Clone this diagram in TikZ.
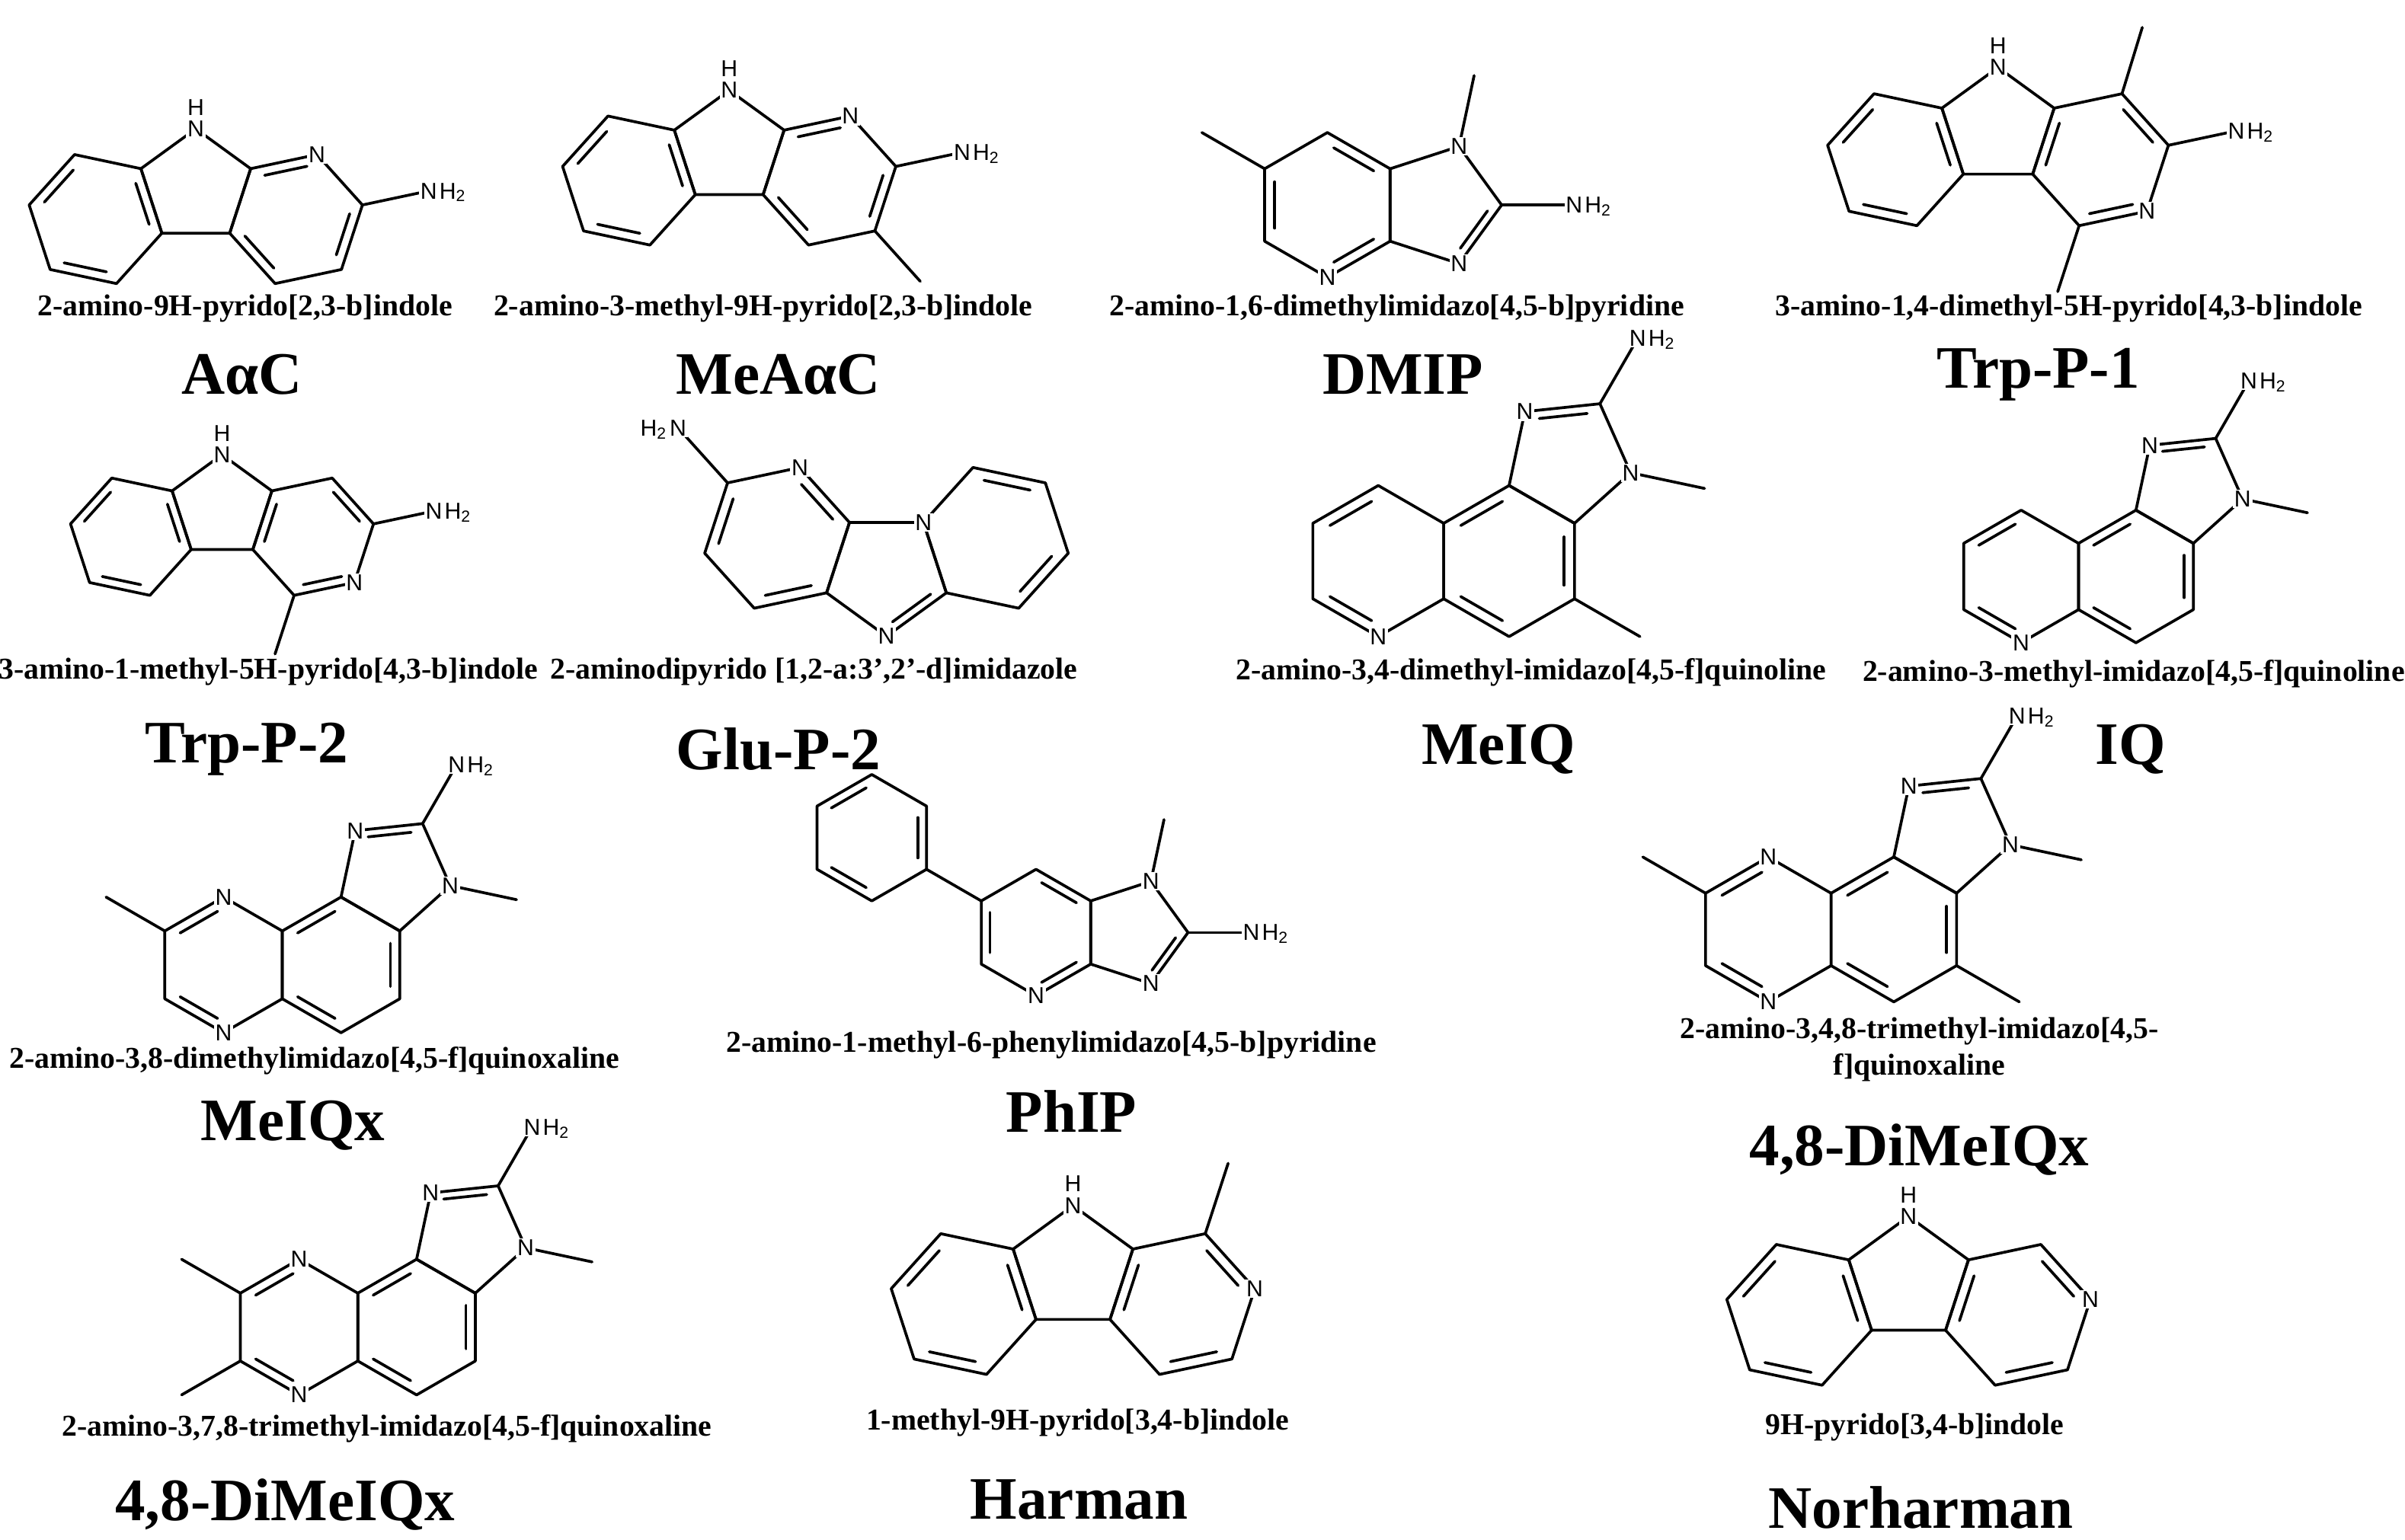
\documentclass[tikz,border=0pt]{standalone}
\usepackage{fontspec}
\setmainfont{Liberation Serif}
\setsansfont{Liberation Sans}
\usetikzlibrary{calc}
\tikzset{
  bond/.style={line width=1.05pt, line cap=round, line join=round},
  atom/.style={font=\sffamily\fontsize{8.6}{9}\selectfont, fill=white, inner sep=0.5pt},
  desc/.style={font=\bfseries\fontsize{11.3}{13.5}\selectfont, align=center, inner sep=0pt},
  title/.style={font=\bfseries\fontsize{22.5}{26}\selectfont, inner sep=0pt}
}
\newcommand\setL[1]{\pgfmathsetmacro\L{#1}\pgfmathsetmacro\R{#1/(2*sin(36))}\pgfmathsetmacro\D{#1*1.554216}\pgfmathsetmacro\S{#1*1.732051}}
\newcommand\hexat[3]{\foreach \k in {1,...,6}{\coordinate (#1\k) at ($(#2)+({#3+60*(\k-1)}:\L)$);}}
\newcommand\penat[3]{\foreach \k in {1,...,5}{\coordinate (#1\k) at ($(#2)+({#3+72*(\k-1)}:\R)$);}}
\newcommand\hexdraw[1]{\draw[bond] (#11)--(#12)--(#13)--(#14)--(#15)--(#16)--cycle;}
\newcommand\pendraw[1]{\draw[bond] (#11)--(#12)--(#13)--(#14)--(#15)--cycle;}
\newcommand\db[3]{\coordinate (t1) at ($(#1)!.16!(#3)$);\coordinate (t2) at ($(#2)!.16!(#3)$);\draw[bond] ($(t1)!.12!(t2)$)--($(t2)!.12!(t1)$);}
\newcommand\sub[3]{\draw[bond] (#1)--++(#2:\L) coordinate (#3);}
\newcommand\atm[2]{\node[atom] at (#1) {#2};}
\newcommand\nhtwo[1]{\node[atom] (nn) at (#1) {N};\node[atom,anchor=base west,inner xsep=0pt] at (nn.base east) {H\textsubscript{2}};}
\newcommand\htwon[1]{\node[atom] (nn) at (#1) {N};\node[atom,anchor=base east,inner xsep=0pt] at (nn.base west) {H\textsubscript{2}};}
\newcommand\nhup[1]{\node[atom] at (#1) {N};\node[atom] at ($(#1)+(0,14)$) {H};}
\newcommand\carb{\penat{p}{P}{90}\coordinate (A) at ($(P)+(198:\D)$);\hexat{a}{A}{48}%
  \coordinate (B) at ($(P)+(342:\D)$);\hexat{b}{B}{12}%
  \pendraw{p}\hexdraw{a}\hexdraw{b}\db{a2}{a3}{A}\db{a4}{a5}{A}\db{a6}{a1}{A}}
\newcommand\quin{\hexat{u}{U}{30}\coordinate (V) at ($(U)+(0:\S)$);\hexat{v}{V}{30}%
  \coordinate (W) at ($(V)+(60:\D)$);\penat{w}{W}{204}%
  \hexdraw{u}\hexdraw{v}\pendraw{w}%
  \db{u2}{u3}{U}\db{u4}{u5}{U}\db{v2}{v3}{V}\db{v4}{v5}{V}\db{v6}{v1}{V}\db{w4}{w5}{W}%
  \sub{w3}{348}{m3}\sub{w4}{60}{am}}
\newcommand\imp{\hexat{h}{H}{30}\coordinate (Q) at ($(H)+(0:\D)$);\penat{q}{Q}{144}%
  \hexdraw{h}\pendraw{q}\db{h1}{h2}{H}\db{h3}{h4}{H}\db{h5}{h6}{H}\db{q3}{q4}{Q}%
  \sub{q4}{0}{am}\sub{q5}{78}{m1}}
\begin{document}
\begin{tikzpicture}[x=0.020237cm,y=0.020237cm]
\useasboundingbox (0,0) rectangle (1560,-999);
\fill[white] (0,0) rectangle (1560,-999);

% ---------- AaC
\begin{scope}\setL{44}\coordinate (P) at (127,-121);\carb
\db{b3}{b2}{B}\db{b1}{b6}{B}\db{b5}{b4}{B}\sub{b1}{12}{am}
\nhup{p1}\atm{b2}{N}\nhtwo{am}
\end{scope}
% ---------- MeAaC
\begin{scope}\setL{44}\coordinate (P) at (473,-96);\carb
\db{b3}{b2}{B}\db{b1}{b6}{B}\db{b5}{b4}{B}\sub{b1}{12}{am}\sub{b6}{312}{me}
\nhup{p1}\atm{b2}{N}\nhtwo{am}
\end{scope}
% ---------- DMIP
\begin{scope}\setL{47}\coordinate (H) at (861,-133);\imp
\sub{h3}{150}{m6}
\atm{h5}{N}\atm{q3}{N}\atm{q5}{N}\nhtwo{am}
\end{scope}
% ---------- Trp-P-1
\begin{scope}\setL{45}\coordinate (P) at (1296,-82);\carb
\db{b2}{b1}{B}\db{b6}{b5}{B}\db{b4}{b3}{B}\sub{b1}{12}{am}\sub{b2}{73}{m1}\sub{b5}{252}{m2}
\nhup{p1}\atm{b6}{N}\nhtwo{am}
\end{scope}
% ---------- Trp-P-2
\begin{scope}\setL{40}\coordinate (P) at (144,-329);\carb
\db{b2}{b1}{B}\db{b6}{b5}{B}\db{b4}{b3}{B}\sub{b1}{12}{am}\sub{b5}{252}{m2}
\nhup{p1}\atm{b6}{N}\nhtwo{am}
\end{scope}
% ---------- Glu-P-2
\begin{scope}\setL{48}\coordinate (P) at (575,-372);
\penat{p}{P}{270}\coordinate (A) at ($(P)+(162:\D)$);\hexat{a}{A}{12}
\coordinate (B) at ($(P)+(18:\D)$);\hexat{b}{B}{48}
\pendraw{p}\hexdraw{a}\hexdraw{b}
\db{a2}{a1}{A}\db{a3}{a4}{A}\db{a5}{a6}{A}\db{p1}{p2}{P}\db{b1}{b2}{B}\db{b5}{b6}{B}
\sub{a3}{132}{am}
\atm{a2}{N}\atm{p1}{N}\atm{p3}{N}\htwon{am}
\end{scope}
% ---------- MeIQ
\begin{scope}\setL{49}\coordinate (U) at (894,-364);\quin
\sub{v6}{330}{m4}
\atm{u5}{N}\atm{w5}{N}\atm{w3}{N}\nhtwo{am}
\end{scope}
% ---------- IQ
\begin{scope}\setL{43}\coordinate (U) at (1311,-374);\quin
\atm{u5}{N}\atm{w5}{N}\atm{w3}{N}\nhtwo{am}
\end{scope}
% ---------- MeIQx
\begin{scope}\setL{44}\coordinate (U) at (145,-626);\quin
\sub{u3}{150}{m8}
\atm{u2}{N}\atm{u5}{N}\atm{w5}{N}\atm{w3}{N}\nhtwo{am}
\end{scope}
% ---------- PhIP
\begin{scope}\setL{41}\coordinate (H) at (672,-605);\imp
\sub{h3}{150}{X}\coordinate (Y) at ($(X)+(150:\L)$);\hexat{f}{Y}{30}\hexdraw{f}
\db{f6}{f1}{Y}\db{f2}{f3}{Y}\db{f4}{f5}{Y}
\atm{h5}{N}\atm{q3}{N}\atm{q5}{N}\nhtwo{am}
\end{scope}
% ---------- 4,8-DiMeIQx (top)
\begin{scope}\setL{47}\coordinate (U) at (1147,-603);\quin
\sub{u3}{150}{m8}\sub{v6}{330}{m4}
\atm{u2}{N}\atm{u5}{N}\atm{w5}{N}\atm{w3}{N}\nhtwo{am}
\end{scope}
% ---------- 7,8-DiMeIQx (bottom)
\begin{scope}\setL{44}\coordinate (U) at (194,-861);\quin
\sub{u3}{150}{m8}\sub{u4}{210}{m7}
\atm{u2}{N}\atm{u5}{N}\atm{w5}{N}\atm{w3}{N}\nhtwo{am}
\end{scope}
% ---------- Harman
\begin{scope}\setL{48}\coordinate (P) at (696,-823);\carb
\db{b2}{b1}{B}\db{b6}{b5}{B}\db{b4}{b3}{B}\sub{b2}{72}{m1}
\nhup{p1}\atm{b1}{N}
\end{scope}
% ---------- Norharman
\begin{scope}\setL{48}\coordinate (P) at (1238,-830);\carb
\db{b2}{b1}{B}\db{b6}{b5}{B}\db{b4}{b3}{B}
\nhup{p1}\atm{b1}{N}
\end{scope}

% ---------- descriptors
\node[desc] (d1) at (159,-200) {2-amino-9H-pyrido[2,3-b]indole};
\node[desc] (d2) at (495,-200) {2-amino-3-methyl-9H-pyrido[2,3-b]indole};
\node[desc] (d3) at (906,-200) {2-amino-1,6-dimethylimidazo[4,5-b]pyridine};
\node[desc] (d4) at (1342,-200) {3-amino-1,4-dimethyl-5H-pyrido[4,3-b]indole};
\node[desc] (d5) at (174,-436) {3-amino-1-methyl-5H-pyrido[4,3-b]indole};
\node[desc] (d6) at (528,-436) {2-aminodipyrido [1,2-a:3',2'-d]imidazole};
\node[desc] (d7) at (993,-436) {2-amino-3,4-dimethyl-imidazo[4,5-f]quinoline};
\node[desc] (d8) at (1384,-437) {2-amino-3-methyl-imidazo[4,5-f]quinoline};
\node[desc] (d9) at (204,-688) {2-amino-3,8-dimethylimidazo[4,5-f]quinoxaline};
\node[desc] (d10) at (682,-678) {2-amino-1-methyl-6-phenylimidazo[4,5-b]pyridine};
\node[desc] (d11) at (1245,-681) {2-amino-3,4,8-trimethyl-imidazo[4,5-\\f]quinoxaline};
\node[desc] (d12) at (251,-927) {2-amino-3,7,8-trimethyl-imidazo[4,5-f]quinoxaline};
\node[desc] (d13) at (699,-923) {1-methyl-9H-pyrido[3,4-b]indole};
\node[desc] (d14) at (1242,-926) {9H-pyrido[3,4-b]indole};

% ---------- names
\node[title] (n1) at (157,-243) {AαC};
\node[title] (n2) at (505,-243) {MeAαC};
\node[title] (n3) at (910,-243) {DMIP};
\node[title] (n4) at (1322,-243) {Trp-P-1};
\node[title] (n5) at (160,-486) {Trp-P-2};
\node[title] (n6) at (505,-486) {Glu-P-2};
\node[title] (n7) at (972,-486) {MeIQ};
\node[title] (n8) at (1382,-486) {IQ};
\node[title] (n9) at (190,-730) {MeIQx};
\node[title] (n10) at (695,-721) {PhIP};
\node[title] (n11) at (1245,-746) {4,8-DiMeIQx};
\node[title] (n12) at (185,-976) {4,8-DiMeIQx};
\node[title] (n13) at (700,-973) {Harman};
\node[title] (n14) at (1246,-978) {Norharman};
\end{tikzpicture}
\end{document}
